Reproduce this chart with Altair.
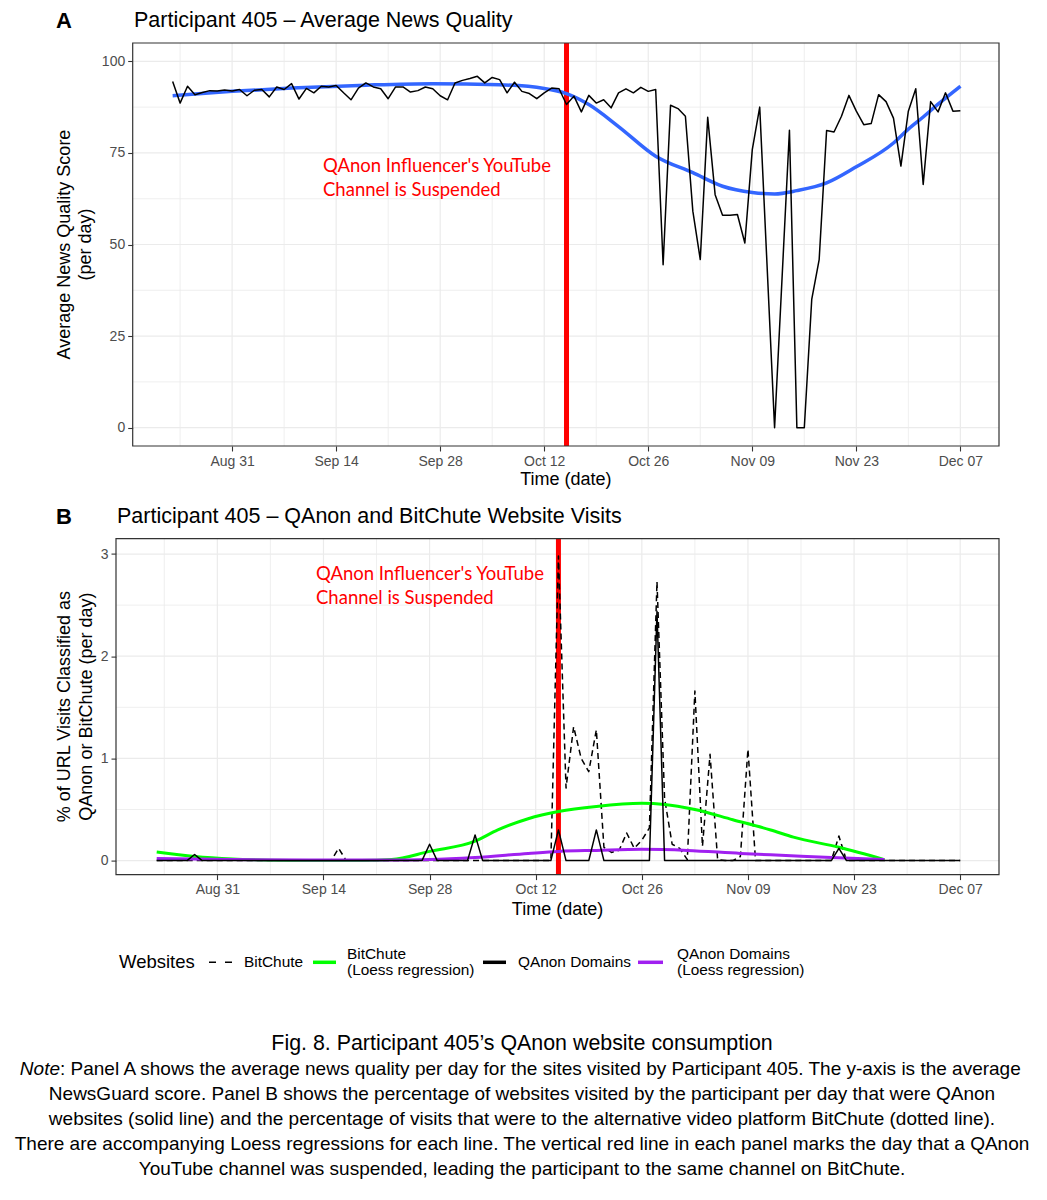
import altair as alt
import pandas as pd

# ---------------- data ----------------
START = "2020-08-23"
END = "2020-12-07"
SUSPENSION_DATE = "2020-10-15"

# Panel A: average news quality per day (Aug 23 .. Dec 07), None = no point that day
quality = [
    94.5, 88.6, 93.2, 90.9, 91.5, 92.0, 91.9, 92.2, 91.9, 92.3,
    90.6, 92.1, 92.3, 90.3, 93.0, 92.3, 93.9, 89.7, 92.6, 91.4,
    93.2, 93.0, 93.4, 91.4, 89.5, 92.7, 94.1, 93.0, 92.5, 89.8,
    93.0, 93.0, 91.6, 92.0, 93.0, 92.5, 90.6, 89.5, 94.1, 94.8,
    95.3, 95.9, 94.1, 95.6, 95.0, 91.4, 94.3, 91.8, 91.2, 89.8,
    91.4, 92.7, 92.5, 88.2, 90.5, 86.2, 90.7, 88.6, 89.5, 87.3,
    91.4, 92.5, 91.4, 92.9, 91.8, 92.3, 44.5, 88.0, 87.1, 85.0,
    59.1, 45.9, 84.7, 63.6, 58.0, 58.0, 58.2, 50.4, 75.9, 87.5,
    None, 0.0, None, 81.2, 0.0, 0.0, 35.0, 45.9, 81.1, 80.7,
    85.0, 90.7, 86.4, 82.7, 83.0, 90.9, 89.0, 84.5, 71.4, 86.4,
    92.5, 66.4, 89.0, 86.2, 91.4, 86.4, 86.5,
]
quality_loess_day = [0, 8, 16, 26, 35, 44, 50, 53, 56, 60, 65, 70, 74, 78, 81, 84, 88, 92, 97, 99, 101, 103, 106]
quality_loess = [90.6, 91.8, 92.7, 93.5, 93.9, 93.6, 92.6, 91.2, 88.2, 82.2, 74.1, 69.6, 65.9, 64.2, 63.8, 64.7,
                 66.8, 71.2, 77.7, 81.5, 84.8, 88.3, 93.2]

# Panel B: % of URL visits per day
bitchute = [
    0, 0, 0, 0, 0, 0, 0, 0, 0, 0,
    0, 0, 0, 0, 0, 0, 0, 0, 0, 0,
    0, 0, 0, 0, 0.12, 0, 0, 0, 0, 0,
    0, 0, 0, 0, 0, 0, 0, 0, 0, 0,
    0, 0, 0, 0, 0, 0, 0, 0, 0, 0,
    0, 0, 0, 2.98, 0.71, 1.31, 1.00, 0.87, 1.28, 0.13,
    0.08, 0.10, 0.27, 0.12, 0.20, 0.32, 2.73, 0.61, 0.16, 0.12,
    0.01, 1.66, 0.14, 1.04, 0.01, 0, 0, 0.04, 1.09, 0,
    0, 0, 0, 0, 0, 0, 0, 0, 0, 0,
    0.24, 0, 0, 0, 0, 0, 0, 0, 0, 0,
    0, 0, 0, 0, 0, 0, 0,
]
qanon = [
    0, 0, 0, 0, 0, 0.06, 0, 0, 0, 0,
    0, 0, 0, 0, 0, 0, 0, 0, 0, 0,
    0, 0, 0, 0, 0, 0, 0, 0, 0, 0,
    0, 0, 0, 0, 0, 0, 0.16, 0, 0, 0,
    0, 0, 0.25, 0, 0, 0, 0, 0, 0, 0,
    0, 0, 0, 0.30, 0, 0, 0, 0, 0.30, 0,
    0, 0, 0, 0, 0, 0, 2.44, 0, 0, 0,
    0, 0, 0, 0, 0, 0, 0, 0, 0, 0,
    0, 0, 0, 0, 0, 0, 0, 0, 0, 0,
    0.12, 0, 0, 0, 0, 0, 0, 0, 0, 0,
    0, 0, 0, 0, 0, 0, 0,
]
bitchute_loess_day = [0, 5, 10, 15, 20, 27, 31, 36, 42, 45, 49, 53, 58, 64, 67, 71, 76, 81, 84, 90, 96]
bitchute_loess = [0.085, 0.04, 0.015, 0.004, 0.0, 0.0, 0.01, 0.09, 0.19, 0.30, 0.41, 0.48, 0.53, 0.56, 0.55,
                  0.50, 0.40, 0.30, 0.23, 0.13, 0.01]
qanon_loess_day = [0, 10, 20, 30, 36, 42, 49, 53, 58, 64, 70, 77, 83, 89, 96]
qanon_loess = [0.02, 0.01, 0.005, 0.005, 0.01, 0.03, 0.07, 0.09, 0.10, 0.11, 0.10, 0.07, 0.05, 0.03, 0.01]

major_dates = ["2020-08-31", "2020-09-14", "2020-09-28", "2020-10-12",
               "2020-10-26", "2020-11-09", "2020-11-23", "2020-12-07"]
minor_dates = ["2020-08-24", "2020-09-07", "2020-09-21", "2020-10-05",
               "2020-10-19", "2020-11-02", "2020-11-16", "2020-11-30"]
ya_major = [0, 25, 50, 75, 100]
ya_minor = [12.5, 37.5, 62.5, 87.5]
yb_major = [0, 1, 2, 3]
yb_minor = [0.5, 1.5, 2.5]

# ---------------- helpers ----------------
DAY_MS = 86400000
SANS = "Liberation Sans"
CAP_FONT = "Liberation Sans"
ANN_FONT = "Lato"
GRID = "#EBEBEB"
ONE = pd.DataFrame({"k": [0]})


def ms(s):
    return int(pd.Timestamp(s, tz="UTC").value // 10**6)


def day_str(d):
    return (pd.Timestamp(START) + pd.Timedelta(days=d)).strftime("%Y-%m-%d")


all_days = [day_str(i) for i in range(len(quality))]

df_quality = pd.DataFrame({"date": all_days, "value": quality}).dropna()
df_quality_loess = pd.DataFrame({"date": [day_str(d) for d in quality_loess_day], "value": quality_loess})
df_bitchute = pd.DataFrame({"date": all_days, "value": bitchute})
df_qanon = pd.DataFrame({"date": all_days, "value": qanon})
df_bitchute_loess = pd.DataFrame({"date": [day_str(d) for d in bitchute_loess_day], "value": bitchute_loess})
df_qanon_loess = pd.DataFrame({"date": [day_str(d) for d in qanon_loess_day], "value": qanon_loess})
df_susp = pd.DataFrame({"date": [SUSPENSION_DATE]})

WA, HA = 883, 403
WB, HB = 883, 336
FA = 16.7  # left edge of panel A frame inside its view

xs_A = alt.Scale(type="utc", domain=[ms(START) - 7.625 * DAY_MS, ms(END) + 5.2 * DAY_MS])
xs_B = alt.Scale(type="utc", domain=[ms(START) - 5.37 * DAY_MS, ms(END) + 5.12 * DAY_MS])
ys_A = alt.Scale(domain=[-5.0, 105.0], nice=False, zero=False)
ys_B = alt.Scale(domain=[-0.137, 3.151], nice=False, zero=False)

axis_common = dict(domain=False, grid=False, title=None, labelFont=SANS, labelFontSize=14,
                   labelColor="#4D4D4D", tickColor="#333333", tickSize=5, tickWidth=1.1,
                   labelPadding=3)
x_axis = alt.Axis(values=[ms(d) for d in major_dates], orient="bottom",
                  labelExpr="utcFormat(datum.value, '%b %d')",
                  labelFlush=False, labelOverlap=False, **axis_common)
y_axis_A = alt.Axis(values=ya_major, orient="left", offset=-FA, **axis_common)
y_axis_B = alt.Axis(values=yb_major, orient="left", **axis_common)


def XA(field="date"):
    return alt.X(f"{field}:T", scale=xs_A, axis=x_axis)


def YA(field="value"):
    return alt.Y(f"{field}:Q", scale=ys_A, axis=y_axis_A)


def XB(field="date"):
    return alt.X(f"{field}:T", scale=xs_B, axis=x_axis)


def YB(field="value"):
    return alt.Y(f"{field}:Q", scale=ys_B, axis=y_axis_B)


def text(s, x, y, size, font=SANS, color="black", align="left", **kw):
    return alt.Chart(ONE).mark_text(text=s, fontSize=size, font=font, color=color, align=align,
                                    baseline="middle", **kw).encode(x=alt.value(x), y=alt.value(y))


def vgrid(dates, X, H, w):
    return alt.Chart(pd.DataFrame({"date": dates})).mark_rule(color=GRID, strokeWidth=w).encode(
        x=X(), y=alt.value(0), y2=alt.value(H))


def hgrid(vals, Y, x0, W, w):
    return alt.Chart(pd.DataFrame({"value": vals})).mark_rule(color=GRID, strokeWidth=w).encode(
        y=Y(), x=alt.value(x0), x2=alt.value(W))


def keyline(x0, x1, y, color, width, dash=None):
    kw = dict(color=color, strokeWidth=width)
    if dash:
        kw["strokeDash"] = dash
    return alt.Chart(ONE).mark_rule(**kw).encode(x=alt.value(x0), x2=alt.value(x1), y=alt.value(y))


# ---------------- Panel A ----------------
a_line = alt.Chart(df_quality).mark_line(color="black", strokeWidth=1.5, strokeJoin="round").encode(
    x=XA(), y=YA())
a_loess = alt.Chart(df_quality_loess).mark_line(color="#3366FF", strokeWidth=3.5, interpolate="monotone").encode(
    x=XA(), y=YA())
a_red = alt.Chart(df_susp).mark_rule(color="#FF0000", strokeWidth=5).encode(
    x=XA(), y=alt.value(0), y2=alt.value(HA))
a_frame = alt.Chart(ONE).mark_rect(fillOpacity=0, stroke="#333333", strokeWidth=1.2).encode(
    x=alt.value(FA), x2=alt.value(WA), y=alt.value(0), y2=alt.value(HA))
a_anchor = alt.Chart(ONE).mark_point(size=1, opacity=0, filled=True).encode(
    x=alt.value(-107), y=alt.value(-33.7))

panelA = alt.layer(
    vgrid(minor_dates, XA, HA, 0.8), vgrid(major_dates, XA, HA, 1.2),
    hgrid(ya_minor, YA, FA, WA, 0.8), hgrid(ya_major, YA, FA, WA, 1.2),
    a_red, a_loess, a_line, a_frame,
    text("A", -52, -21.7, 22, fontWeight="bold", align="center"),
    text("Participant 405 \u2013 Average News Quality", 18, -21.7, 21.5),
    text("Average News Quality Score", -51, HA / 2, 18, align="center", angle=270),
    text("(per day)", -30, HA / 2, 18, align="center", angle=270),
    text("Time (date)", 449.9, 437.3, 18, align="center"),
    text("QAnon Influencer's YouTube", 207, 123.3, 18.5, font=ANN_FONT, color="#FF0000"),
    text("Channel is Suspended", 207, 147.3, 18.5, font=ANN_FONT, color="#FF0000"),
    a_anchor,
).properties(width=WA, height=HA)

# ---------------- Panel B ----------------
b_bit = alt.Chart(df_bitchute).mark_line(color="black", strokeWidth=1.5, strokeDash=[6, 4],
                                         strokeJoin="round").encode(x=XB(), y=YB())
b_qan = alt.Chart(df_qanon).mark_line(color="black", strokeWidth=1.5, strokeJoin="round").encode(
    x=XB(), y=YB())
b_bit_loess = alt.Chart(df_bitchute_loess).mark_line(color="#00FF00", strokeWidth=3, interpolate="monotone").encode(
    x=XB(), y=YB())
b_qan_loess = alt.Chart(df_qanon_loess).mark_line(color="#A020F0", strokeWidth=3, interpolate="monotone").encode(
    x=XB(), y=YB())
b_red = alt.Chart(df_susp).mark_rule(color="#FF0000", strokeWidth=5).encode(
    x=XB(), y=alt.value(0), y2=alt.value(HB))
b_frame = alt.Chart(ONE).mark_rect(fillOpacity=0, stroke="#333333", strokeWidth=1.2).encode(
    x=alt.value(0), x2=alt.value(WB), y=alt.value(0), y2=alt.value(HB))

LY = 423.7
CAP_SIZE = 19
note_lines = [
    "NewsGuard score. Panel B shows the percentage of websites visited by the participant per day that were QAnon",
    "websites (solid line) and the percentage of visits that were to the alternative video platform BitChute (dotted line).",
    "There are accompanying Loess regressions for each line. The vertical red line in each panel marks the day that a QAnon",
    "YouTube channel was suspended, leading the participant to the same channel on BitChute.",
]

panelB = alt.layer(
    vgrid(minor_dates, XB, HB, 0.8), vgrid(major_dates, XB, HB, 1.2),
    hgrid(yb_minor, YB, 0, WB, 0.8), hgrid(yb_major, YB, 0, WB, 1.2),
    b_red, b_bit, b_bit_loess, b_qan_loess, b_qan, b_frame,
    text("B", -52, -21.3, 22, fontWeight="bold", align="center"),
    text("Participant 405 \u2013 QAnon and BitChute Website Visits", 1, -21.3, 21.5),
    text("% of URL Visits Classified as", -51, HB / 2, 18, align="center", angle=270),
    text("QAnon or BitChute (per day)", -29, HB / 2, 18, align="center", angle=270),
    text("Time (date)", 441.5, 371.7, 18, align="center"),
    text("QAnon Influencer's YouTube", 200, 35.7, 18.5, font=ANN_FONT, color="#FF0000"),
    text("Channel is Suspended", 200, 59.7, 18.5, font=ANN_FONT, color="#FF0000"),
    # legend
    text("Websites", 3, LY, 18.5),
    keyline(93, 116, LY, "black", 1.5, [7, 9]),
    text("BitChute", 128, LY, 15.4),
    keyline(197, 220, LY, "#00FF00", 3.5),
    text("BitChute", 231, LY - 8, 15.4),
    text("(Loess regression)", 231, LY + 8, 15.4),
    keyline(367, 390, LY, "black", 3.5),
    text("QAnon Domains", 402, LY, 15.4),
    keyline(522, 547, LY, "#A020F0", 3.5),
    text("QAnon Domains", 561, LY - 8, 15.4),
    text("(Loess regression)", 561, LY + 8, 15.4),
    # caption
    text("Fig. 8. Participant 405\u2019s QAnon website consumption", 406, 505.7, 21.4, font=CAP_FONT, align="center"),
    text("Note", -56, 530.7, CAP_SIZE, font=CAP_FONT, align="right", fontStyle="italic"),
    text(": Panel A shows the average news quality per day for the sites visited by Participant 405. The y-axis is the average",
         -56, 530.7, CAP_SIZE, font=CAP_FONT),
    text(note_lines[0], 406, 555.7, CAP_SIZE, font=CAP_FONT, align="center"),
    text(note_lines[1], 406, 580.7, CAP_SIZE, font=CAP_FONT, align="center"),
    text(note_lines[2], 406, 605.7, CAP_SIZE, font=CAP_FONT, align="center"),
    text(note_lines[3], 406, 630.7, CAP_SIZE, font=CAP_FONT, align="center"),
).properties(width=WB, height=HB)

chart = alt.vconcat(panelA, panelB, spacing=92.6, bounds="flush").properties(
    padding=0
).configure_view(stroke=None)

chart.save("out.html", embed_options={"renderer": "svg", "actions": False})
